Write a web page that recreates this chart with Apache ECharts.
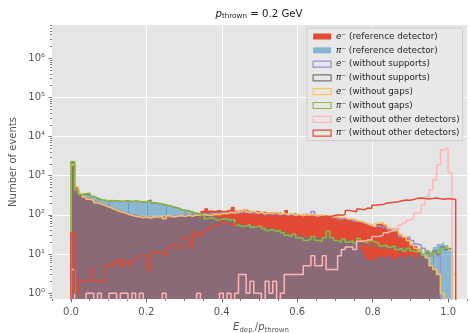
<!DOCTYPE html>
<html>
<head>
<meta charset="utf-8">
<script src="https://cdn.jsdelivr.net/npm/echarts@6.0.0/dist/echarts.min.js"></script>
<style>
  html, body { margin: 0; padding: 0; background: #ffffff; }
  #chart { width: 470px; height: 333px; }
</style>
</head>
<body>
<div id="chart"></div>
<script>
// Binning of E_dep./p_thrown: 101 equal bins on [0, 1.02]
const BIN_LO = 0;
const BIN_HI = 1.02;
const N_BINS = 101;

// Event counts per bin (101 values each)
const eRef = [
  2000, 500, 340, 290, 260, 240, 215, 195, 180, 165,
  150, 140, 128, 120, 112, 105, 100, 95, 92, 88,
  85, 90, 86, 92, 88, 95, 90, 98, 94, 100,
  96, 104, 110, 106, 125, 148, 130, 128, 135, 125,
  130, 138, 160, 128, 135, 140, 125, 120, 128, 118,
  122, 112, 118, 110, 115, 108, 132, 105, 110, 100,
  104, 98, 102, 110, 95, 98, 90, 94, 86, 88,
  80, 84, 76, 72, 78, 66, 62, 56, 52, 48,
  58, 62, 55, 45, 40, 44, 30, 26, 24, 18,
  16, 12, 9, 8, 5, 4, 3, 0, 0, 0,
  0
];
const piRef = [
  2100, 420, 320, 330, 340, 300, 260, 240, 235, 225,
  230, 220, 225, 215, 228, 218, 222, 212, 218, 210,
  205, 195, 200, 185, 178, 170, 160, 150, 140, 135,
  125, 118, 110, 105, 100, 95, 90, 85, 78, 82,
  80, 75, 78, 60, 55, 52, 56, 50, 48, 52,
  46, 42, 45, 40, 38, 36, 34, 30, 32, 28,
  27, 25, 26, 24, 26, 23, 25, 30, 24, 22,
  24, 21, 23, 20, 22, 19, 12, 8, 7, 7,
  8, 9, 8, 9, 7, 8, 9, 8, 9, 10,
  8, 10, 9, 11, 12, 15, 18, 20, 17, 12,
  0
];
const eNoSupports = [
  1950, 510, 330, 280, 255, 230, 210, 190, 172, 160,
  148, 135, 125, 118, 110, 100, 96, 90, 88, 86,
  88, 84, 90, 86, 92, 88, 94, 96, 92, 98,
  100, 96, 104, 100, 108, 104, 110, 106, 112, 108,
  115, 110, 118, 112, 116, 120, 110, 114, 108, 112,
  100, 110, 104, 108, 100, 106, 98, 104, 96, 102,
  95, 105, 98, 122, 96, 92, 96, 90, 86, 92,
  78, 82, 75, 80, 70, 68, 65, 58, 55, 50,
  52, 48, 52, 42, 44, 38, 28, 26, 27, 22,
  18, 17, 14, 12, 10, 11, 9, 0, 0, 0,
  0
];
const piNoSupports = [
  2150, 430, 315, 340, 335, 295, 265, 245, 232, 230,
  225, 228, 220, 222, 230, 215, 225, 220, 212, 215,
  240, 200, 195, 190, 175, 172, 158, 152, 138, 132,
  128, 115, 112, 102, 98, 96, 88, 86, 80, 78,
  82, 72, 76, 62, 58, 50, 54, 52, 46, 50,
  44, 44, 42, 41, 36, 37, 32, 31, 30, 29,
  26, 26, 24, 25, 24, 24, 23, 28, 25, 21,
  22, 22, 21, 21, 20, 18, 19, 17, 18, 16,
  17, 15, 16, 14, 15, 14, 12, 14, 13, 12,
  11, 12, 10, 11, 9, 12, 10, 15, 13, 14,
  0
];
const eNoGaps = [
  1900, 530, 350, 285, 250, 235, 205, 185, 175, 158,
  145, 132, 120, 115, 104, 98, 92, 90, 84, 88,
  82, 92, 86, 94, 80, 96, 88, 92, 96, 90,
  98, 92, 100, 96, 102, 98, 96, 104, 100, 110,
  106, 118, 112, 120, 125, 140, 118, 124, 112, 118,
  108, 114, 110, 116, 104, 112, 102, 108, 98, 104,
  96, 100, 102, 98, 94, 100, 92, 96, 88, 90,
  84, 86, 78, 80, 72, 70, 64, 60, 54, 50,
  62, 64, 56, 46, 42, 40, 32, 28, 22, 17,
  14, 12, 10, 8, 5, 4, 3, 1, 0, 0,
  3
];
const piNoGaps = [
  2300, 430, 330, 345, 360, 300, 270, 240, 238, 228,
  232, 222, 226, 218, 225, 220, 218, 216, 215, 220,
  212, 205, 198, 192, 180, 168, 162, 148, 140, 128,
  122, 120, 108, 100, 96, 80, 84, 76, 72, 80,
  78, 74, 76, 55, 50, 52, 56, 48, 50, 52,
  45, 40, 42, 38, 40, 35, 30, 28, 32, 26,
  25, 22, 24, 28, 22, 21, 26, 38, 26, 22,
  20, 24, 20, 22, 19, 25, 21, 19, 22, 20,
  18, 16, 17, 15, 16, 13, 14, 12, 14, 12,
  11, 13, 10, 12, 9, 11, 10, 14, 15, 13,
  0
];
const eNoOther = [
  4, 0, 0, 0, 1, 1, 0, 1, 0, 0,
  1, 1, 0, 1, 1, 0, 1, 0, 1, 0,
  0, 0, 0, 0, 1, 0, 0, 0, 0, 0,
  0, 0, 0, 1, 0, 0, 0, 0, 0, 1,
  0, 1, 0, 1, 3, 3, 1, 2, 1, 1,
  0, 2, 1, 2, 0, 1, 3, 3, 3, 3,
  3, 5, 5, 9, 5, 5, 9, 4, 4, 4,
  9, 13, 15, 15, 13, 21, 21, 23, 23, 28,
  28, 30, 35, 38, 40, 45, 55, 62, 74, 83,
  110, 115, 180, 290, 430, 780, 1900, 4600, 5100, 1200,
  0
];
const piNoOther = [
  35, 1, 2, 2, 2, 4, 2, 2, 2, 5,
  5, 6, 7, 5, 7, 5, 7, 8, 9, 9,
  4, 11, 11, 10, 9, 14, 17, 17, 14, 26,
  24, 15, 37, 28, 34, 40, 48, 52, 55, 70,
  60, 58, 52, 60, 62, 58, 65, 60, 62, 68,
  65, 70, 66, 72, 68, 75, 70, 72, 78, 74,
  75, 76, 80, 82, 85, 90, 92, 88, 95, 100,
  98, 102, 130, 125, 120, 140, 135, 150, 145, 175,
  180, 185, 200, 205, 210, 215, 230, 240, 235, 245,
  265, 270, 262, 255, 260, 268, 258, 250, 262, 255,
  250
];

// Legend labels, in drawing order
const labels = [
  'e⁻ (reference detector)',
  'π⁻ (reference detector)',
  'e⁻ (without supports)',
  'π⁻ (without supports)',
  'e⁻ (without gaps)',
  'π⁻ (without gaps)',
  'e⁻ (without other detectors)',
  'π⁻ (without other detectors)'
];

// Axis tick labels
const xTickValues = [0.0, 0.2, 0.4, 0.6, 0.8, 1.0];
const yTickExponents = [0, 1, 2, 3, 4, 5, 6];

// ---- drawing ----
const FONT = 'DejaVu Sans';
const X_MIN = -0.05, X_MAX = 1.05;
const Y_MIN = -0.15, Y_MAX = 6.85;      // log10(count) range of the plot
const BELOW = -1.5;                      // empty bins drop below the plot
const COLORS = ['#E24A33', '#348ABD', '#988ED5', '#777777', '#FBC15E', '#8EBA42', '#FFB5B8', '#E24A33'];
const counts = [eRef, piRef, eNoSupports, piNoSupports, eNoGaps, piNoGaps, eNoOther, piNoOther];

const edges = [];
for (let i = 0; i <= N_BINS; i++) edges.push(BIN_LO + (BIN_HI - BIN_LO) * i / N_BINS);

const toLog = c => (c > 0 ? Math.log10(c) : BELOW);

// Step outline of a histogram: rises from the bottom at the first edge,
// follows each bin top, and falls back at the last edge.
function stepPoints(vals) {
  const pts = [[edges[0], BELOW]];
  vals.forEach((c, i) => pts.push([edges[i], toLog(c)]));
  pts.push([edges[N_BINS], toLog(vals[vals.length - 1])]);
  pts.push([edges[N_BINS], BELOW]);
  return pts;
}

const SUP = { 0: '⁰', 1: '¹', 2: '²', 3: '³', 4: '⁴', 5: '⁵', 6: '⁶' };

// Minor ticks of the log axis at 2..9 x 10^n
const yMinor = [];
for (let n = -1; n <= 6; n++) {
  for (let k = 2; k <= 9; k++) {
    const v = n + Math.log10(k);
    if (v > Y_MIN && v < Y_MAX) yMinor.push(v);
  }
}
const xMinor = [];
for (let k = -1; k <= 21; k++) xMinor.push(Math.round(k * 5) / 100);

const series = [];
counts.forEach((vals, k) => {
  const filled = k < 2;
  series.push({
    type: 'line',
    name: labels[k],
    xAxisIndex: 0,
    yAxisIndex: 0,
    data: stepPoints(vals),
    step: 'end',
    symbol: 'none',
    showSymbol: false,
    silent: true,
    clip: true,
    animation: false,
    emphasis: { disabled: true },
    itemStyle: { color: COLORS[k] },
    lineStyle: filled ? { width: 0, opacity: 0 } : { color: COLORS[k], width: 1.5 },
    areaStyle: filled ? { color: COLORS[k], opacity: k === 0 ? 1 : 0.5, origin: 'start' } : undefined
  });
  if (k === 1) {
    // overlapping edges of adjacent translucent bars, every fifth bin edge
    const seams = [];
    for (let e = 5; e < N_BINS; e += 5) {
      const h = Math.min(piRef[e - 1], piRef[e]);
      if (h > 0) seams.push([edges[e], Math.log10(h)]);
    }
    series.push({
      type: 'custom',
      name: 'bar seams',
      xAxisIndex: 0,
      yAxisIndex: 0,
      silent: true,
      animation: false,
      data: seams,
      renderItem: (params, api) => {
        const top = api.coord([api.value(0), api.value(1)]);
        const bot = api.coord([api.value(0), Y_MIN]);
        const x = Math.round(top[0]) + 0.5;
        return {
          type: 'line',
          shape: { x1: x, y1: bot[1], x2: x, y2: top[1] },
          style: { stroke: 'rgba(52,138,189,0.5)', lineWidth: 1 }
        };
      }
    });
  }
});

const legendData = labels.map((name, k) => ({
  name,
  icon: 'rect',
  itemStyle: k === 0 ? { color: '#E24A33', borderWidth: 0 }
           : k === 1 ? { color: 'rgba(52,138,189,0.55)', borderWidth: 0 }
           : { color: 'rgba(0,0,0,0)', borderColor: COLORS[k], borderWidth: 1.2 }
}));

const tickStyle = { color: '#555555', width: 0.8 };

const option = {
  animation: false,
  backgroundColor: '#ffffff',
  grid: {
    left: 52, right: 3, top: 25, bottom: 34,
    show: true, backgroundColor: '#E5E5E5', borderWidth: 0,
    containLabel: false, outerBoundsMode: 'none'
  },
  xAxis: [
    {
      type: 'value', min: X_MIN, max: X_MAX, position: 'bottom',
      axisLine: { show: false, onZero: false },
      axisTick: { show: true, length: 3.5, lineStyle: tickStyle, customValues: xTickValues },
      axisLabel: {
        customValues: xTickValues, margin: 7, color: '#555555',
        fontSize: 10, fontFamily: FONT, lineHeight: 12,
        formatter: v => Number(v).toFixed(1)
      },
      splitLine: { show: true, showMinLine: false, showMaxLine: false, lineStyle: { color: '#ffffff', width: 1 } }
    },
    {
      type: 'value', min: X_MIN, max: X_MAX, position: 'bottom',
      axisLine: { show: false, onZero: false },
      axisTick: { show: true, length: 2, lineStyle: tickStyle, customValues: xMinor },
      axisLabel: { show: false },
      splitLine: { show: false }
    }
  ],
  yAxis: [
    {
      type: 'value', min: Y_MIN, max: Y_MAX, position: 'left',
      axisLine: { show: false, onZero: false },
      axisTick: { show: true, length: 3.5, lineStyle: tickStyle, customValues: yTickExponents },
      axisLabel: {
        customValues: yTickExponents, margin: 7, color: '#555555',
        fontSize: 10, fontFamily: FONT,
        formatter: v => '10' + SUP[Math.round(v)]
      },
      splitLine: { show: true, showMinLine: false, showMaxLine: false, lineStyle: { color: '#ffffff', width: 1 } }
    },
    {
      type: 'value', min: Y_MIN, max: Y_MAX, position: 'left',
      axisLine: { show: false, onZero: false },
      axisTick: { show: true, length: 2, lineStyle: tickStyle, customValues: yMinor },
      axisLabel: { show: false },
      splitLine: { show: false }
    }
  ],
  legend: {
    orient: 'vertical',
    left: 307, top: 28,
    padding: [3.5, 3, 2.5, 5.5],
    itemWidth: 18, itemHeight: 6, itemGap: 3.8,
    selectedMode: false,
    backgroundColor: 'rgba(232,232,232,0.9)',
    borderColor: '#CCCCCC', borderWidth: 1, borderRadius: 2,
    textStyle: {
      fontSize: 8.8, fontFamily: FONT, color: '#262626', lineHeight: 10,
      rich: {
        m: { fontStyle: 'italic', fontSize: 8.8, fontFamily: FONT, color: '#262626', lineHeight: 10 }
      }
    },
    formatter: name => '{m|' + name.charAt(0) + '}' + name.slice(1),
    data: legendData
  },
  graphic: [
    {
      type: 'text', x: 259, y: 14, silent: true,
      style: {
        text: '{i|p}{s|thrown} = 0.2 GeV',
        fontSize: 10.2, fontFamily: FONT, fill: '#1a1a1a',
        align: 'center', verticalAlign: 'middle',
        rich: {
          i: { fontStyle: 'italic', fontSize: 10.2, fontFamily: FONT, fill: '#1a1a1a' },
          s: { fontSize: 7.2, fontFamily: FONT, fill: '#1a1a1a', padding: [5, 0, 0, 0] }
        }
      }
    },
    {
      type: 'text', x: 261, y: 327, silent: true,
      style: {
        text: '{i|E}{s|dep.}/{i|p}{s|thrown}',
        fontSize: 10, fontFamily: FONT, fill: '#555555',
        align: 'center', verticalAlign: 'middle',
        rich: {
          i: { fontStyle: 'italic', fontSize: 10, fontFamily: FONT, fill: '#555555' },
          s: { fontSize: 7, fontFamily: FONT, fill: '#555555', padding: [6, 0, 0, 0] }
        }
      }
    },
    {
      type: 'text', x: 13, y: 162, rotation: Math.PI / 2, silent: true,
      style: {
        text: 'Number of events',
        fontSize: 10, fontFamily: FONT, fill: '#555555',
        align: 'center', verticalAlign: 'middle'
      }
    }
  ],
  series
};

const chart = echarts.init(document.getElementById('chart'), null, { renderer: 'canvas', width: 470, height: 333 });
chart.setOption(option);
</script>
</body>
</html>
